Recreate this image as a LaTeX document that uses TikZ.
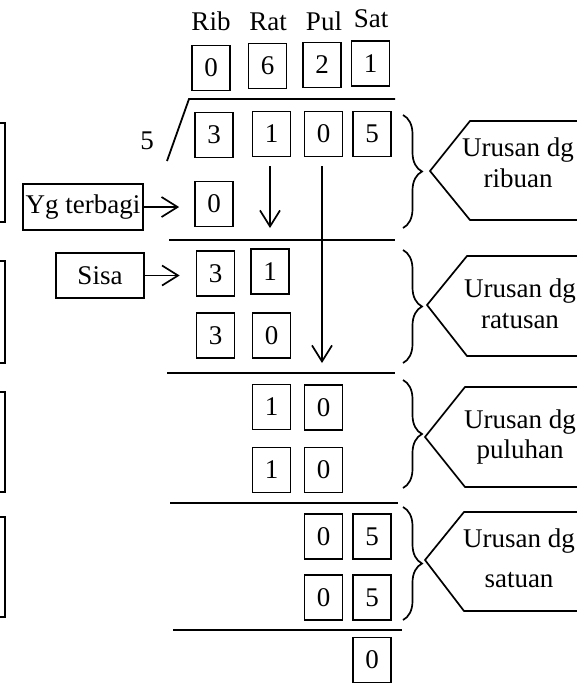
\documentclass[tikz,border=0pt]{standalone}
\usepackage{fontspec}
\setmainfont{Liberation Serif}
\usetikzlibrary{arrows.meta,decorations.pathreplacing,calc}
\begin{document}
\begin{tikzpicture}[x=1pt,y=-1pt,
  every node/.style={font=\fontsize{27}{31}\selectfont},
  digit/.style={draw, line width=1.7pt, minimum width=38pt, minimum height=45pt, inner sep=0pt},
  lbox/.style={draw, line width=1.7pt, inner sep=0pt},
  rule/.style={line width=1.8pt},
  arr/.style={line width=1.7pt, -{Straight Barb[length=16pt,width=20pt,line width=1.7pt]}},
  brc/.style={line width=1.7pt, decorate, decoration={brace, amplitude=19pt}},
  callout/.style={line width=1.7pt},
  lbl/.style={inner sep=0pt, align=center}]
\useasboundingbox (0,0) rectangle (577,686);
\clip (0,0) rectangle (577,686);

% left cropped boxes
\draw[callout] (-100,123) rectangle (5,222);
\draw[callout] (-100,261) rectangle (5,363);
\draw[callout] (-100,392) rectangle (5,492);
\draw[callout] (-100,517) rectangle (5,617);

% headers
\node[lbl, anchor=base] (hrib) at (211,30) {Rib};
\node[lbl, anchor=base] (hrat) at (268,30) {Rat};
\node[lbl, anchor=base] (hpul) at (324,30) {Pul};
\node[lbl, anchor=base] (hsat) at (371,27) {Sat};

% quotient
\node[digit] (q1) at (211,68) {0};
\node[digit] (q2) at (267.5,66) {6};
\node[digit] (q3) at (322,65) {2};
\node[digit] (q4) at (370.5,63.5) {1};

% division bar
\draw[rule] (167,161) -- (189,99) -- (395,99);
\node[lbl] (divisor) at (147,141) {5};

% dividend
\node[digit] (d1) at (214,135) {3};
\node[digit] (d2) at (271.5,134) {1};
\node[digit] (d3) at (323.5,134) {0};
\node[digit] (d4) at (372,134) {5};

% row 3
\node[digit] (r3a) at (214,204) {0};
\node[lbox, minimum width=120pt, minimum height=46pt] (yg) at (83,207) {Yg terbagi};
\draw[arr, shorten >=15pt] (yg.east) -- (yg.east -| r3a.west);

\coordinate (a1s) at (270,166);
\coordinate (a1e) at (270,228);
\draw[arr] (a1s) -- (a1e);
\coordinate (a2s) at (322,166);
\coordinate (a2e) at (322,363);
\draw[arr] (a2s) -- (a2e);

\draw[rule] (169,240) -- (395,240);

% row 4, 5
\node[digit] (r4a) at (215.5,273.5) {3};
\node[digit] (r4b) at (270,271.5) {1};
\node[lbox, minimum width=88pt, minimum height=45pt] (sisa) at (100,275.5) {Sisa};
\draw[arr, shorten >=16pt] (sisa.east) -- (sisa.east -| r4a.west);
\node[digit] (r5a) at (215.5,335.5) {3};
\node[digit] (r5b) at (271.5,335.5) {0};

\draw[rule] (167,373) -- (395,373);

% row 6, 7
\node[digit] (r6a) at (271.5,407) {1};
\node[digit] (r6b) at (323.5,407.5) {0};
\node[digit] (r7a) at (271.5,470) {1};
\node[digit] (r7b) at (323.5,470) {0};

\draw[rule] (170,503) -- (398,503);

% row 8, 9
\node[digit] (r8a) at (323.5,536.5) {0};
\node[digit] (r8b) at (372,536.5) {5};
\node[digit] (r9a) at (323.5,597.5) {0};
\node[digit] (r9b) at (372,597.5) {5};

\draw[rule] (173,630) -- (402,630);

\node[digit] (r10) at (372,660) {0};

% braces
\draw[brc] (403,115) -- (403,228);
\draw[brc] (403,250) -- (403,363);
\draw[brc] (403,380) -- (403,488);
\draw[brc] (403,507) -- (403,620);

% callouts
\draw[callout] (600,121) -- (470,121) -- (430,171) -- (470,220) -- (600,220);
\node[lbl] (c1) at (518,163) {Urusan dg\\ribuan};
\draw[callout] (600,256) -- (467,256) -- (427,305) -- (467,356) -- (600,356);
\node[lbl] (c2) at (520,304) {Urusan dg\\ratusan};
\draw[callout] (600,387) -- (465,387) -- (425,437) -- (465,487) -- (600,487);
\node[lbl] (c3) at (520,437) {Urusan dg\\puluhan};
\draw[callout] (600,512) -- (464,512) -- (425,560) -- (464,611) -- (600,611);
\node[lbl] (c4) at (519,558) {Urusan dg\\[9pt]satuan};
\end{tikzpicture}
\end{document}
